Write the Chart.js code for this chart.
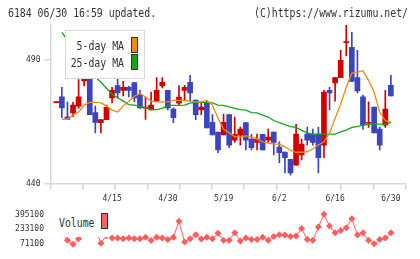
<!DOCTYPE html>
<html>
<head>
<meta charset="utf-8">
<script src="https://cdn.jsdelivr.net/npm/chart.js@4.4.1/dist/chart.umd.min.js"></script>
<style>
  body { margin: 0; background: #fff; }
  #wrap { position: relative; width: 420px; height: 259px; overflow: hidden; background: #fff; }
  canvas { position: absolute; left: 0; }
  .txt { position: absolute; font-family: "DejaVu Sans Mono", monospace; font-size: 12px; line-height: 12px; color: #333; white-space: nowrap; transform: scaleX(0.82); }
  .box { position: absolute; background: #fff; }
  .sw { position: absolute; border: 1px solid #333; box-sizing: border-box; }
</style>
</head>
<body>
<div id="wrap">
  <canvas id="priceChart" width="420" height="205" style="top:0"></canvas>
  <canvas id="volumeChart" width="420" height="59" style="top:200px"></canvas>

  <div class="txt" style="left:8px; top:6.7px; transform-origin:left top;">6184 06/30 16:59 updated.</div>
  <div class="txt" style="left:0; width:408px; text-align:right; top:6.7px; transform-origin:right top;">(C)https://www.rizumu.net/</div>

  <div class="box" style="left:65px; top:30px; width:78px; height:47px; border:1px solid #d8d8d8;"></div>
  <div class="txt" style="left:0; width:124px; text-align:right; top:40.2px; transform-origin:right top;">5-day MA</div>
  <div class="txt" style="left:0; width:124px; text-align:right; top:57px; transform-origin:right top;">25-day MA</div>
  <div class="sw" style="left:131px; top:37px; width:7px; height:16px; background:#f08c0c;"></div>
  <div class="sw" style="left:131px; top:54px; width:7px; height:16px; background:#12a818;"></div>

  <div class="box" style="left:50px; top:206px; width:60px; height:31px;"></div>
  <div class="txt" style="left:59px; top:216.7px; transform-origin:left top;">Volume</div>
  <div class="sw" style="left:101px; top:212.5px; width:7px; height:16px; background:#ff6060;"></div>
</div>

<script>
const dates = [
  "4/1", "4/2", "4/3", "4/6", "4/7", "4/8", "4/9", "4/10", "4/13", "4/14",
  "4/15", "4/16", "4/17", "4/20", "4/21", "4/22", "4/23", "4/24", "4/27", "4/28",
  "4/30", "5/1", "5/7", "5/8", "5/11", "5/12", "5/13", "5/14", "5/15", "5/18",
  "5/19", "5/20", "5/21", "5/22", "5/25", "5/26", "5/27", "5/28", "5/29", "6/1",
  "6/2", "6/3", "6/4", "6/5", "6/8", "6/9", "6/10", "6/11", "6/12", "6/15",
  "6/16", "6/17", "6/18", "6/19", "6/22", "6/23", "6/24", "6/25", "6/26", "6/29",
  "6/30"
];

const opens = [
  472.8, 475.1, 467.1, 468.7, 471.4, 481.6, 483.8, 468.8, 464.7, 465.9,
  474.7, 479.7, 477.7, 479.0, 480.9, 475.8, 470.6, 469.9, 473.4, 479.5,
  477.8, 470.2, 472.6, 477.7, 481.0, 473.8, 469.9, 472.9, 464.9, 460.9,
  459.8, 468.0, 457.7, 459.7, 464.8, 458.1, 456.8, 460.0, 457.7, 460.9,
  454.9, 452.9, 449.9, 447.6, 451.7, 460.1, 460.1, 460.1, 455.7, 477.8,
  480.7, 482.9, 497.0, 495.1, 482.9, 475.1, 464.5, 471.0, 462.1, 463.7,
  479.8
];
const highs = [
  472.9, 479.0, 473.0, 472.9, 482.1, 486.9, 483.8, 471.4, 466.0, 471.8,
  479.0, 484.9, 481.4, 479.5, 480.9, 477.8, 475.0, 477.1, 482.9, 482.9,
  477.8, 470.7, 479.7, 479.8, 483.8, 473.8, 472.7, 473.4, 468.0, 460.9,
  468.2, 468.0, 467.0, 462.9, 464.8, 460.0, 460.1, 460.0, 462.1, 460.9,
  457.0, 452.9, 449.9, 464.1, 458.1, 462.9, 462.1, 462.9, 477.8, 479.0,
  482.9, 493.9, 504.0, 501.1, 493.9, 475.8, 473.1, 471.0, 462.9, 477.8,
  483.8
];
const lows = [
  472.8, 466.7, 465.9, 467.1, 470.5, 479.5, 468.0, 460.6, 460.6, 465.9,
  472.7, 474.7, 475.5, 475.1, 473.1, 470.5, 466.0, 469.9, 473.4, 478.7,
  469.9, 464.7, 471.8, 473.7, 473.4, 465.9, 467.9, 462.6, 459.8, 452.6,
  459.8, 454.6, 456.8, 455.7, 453.7, 453.7, 453.7, 453.7, 456.8, 451.7,
  448.6, 444.5, 443.6, 447.6, 449.7, 455.7, 455.7, 444.5, 450.6, 469.9,
  473.4, 482.9, 491.6, 481.4, 476.7, 462.0, 462.8, 460.6, 453.7, 462.8,
  475.5
];
const closes = [
  472.9, 470.7, 466.0, 471.8, 475.1, 485.2, 468.0, 464.8, 466.0, 470.9,
  477.8, 476.7, 479.0, 477.7, 474.7, 470.7, 471.0, 471.8, 477.8, 481.0,
  470.7, 466.7, 475.0, 479.0, 476.7, 467.9, 471.0, 462.6, 459.8, 453.7,
  464.9, 455.7, 460.0, 462.1, 457.7, 454.6, 458.1, 453.7, 458.9, 456.8,
  452.6, 450.6, 444.5, 460.1, 456.1, 457.7, 456.8, 450.6, 477.1, 476.7,
  482.9, 489.9, 497.2, 481.4, 477.5, 463.7, 464.7, 460.6, 455.7, 470.2,
  475.5
];

const ma5 = [
  null, 466.1, 466.1, 467.8, 469.0, 471.8, 472.9, 472.9, 472.8, 471.4,
  469.8, 469.0, 471.4, 473.4, 475.4, 476.6, 475.1, 473.4, 473.1, 473.1,
  473.1, 473.7, 473.7, 473.7, 473.4, 473.1, 473.1, 473.7, 471.8, 466.5,
  462.1, 460.7, 459.0, 459.0, 459.4, 459.0, 458.1, 457.0, 456.5, 456.1,
  456.1, 455.0, 453.6, 452.8, 452.8, 453.0, 454.1, 455.7, 457.0, 460.5,
  466.5, 472.2, 479.0, 484.7, 485.1, 485.7, 481.8, 477.0, 469.0, 465.5,
  464.9
];
const ma25 = [
  null, 501.1, 497.9, 495.1, 492.1, 489.1, 486.3, 483.2, 481.0, 478.6,
  476.2, 474.8, 473.4, 472.0, 471.8, 471.2, 470.9, 470.0, 470.0, 470.5,
  471.7, 471.7, 471.7, 471.8, 472.6, 472.9, 472.9, 472.9, 472.7, 471.8,
  471.7, 471.1, 470.5, 470.0, 469.8, 468.8, 468.7, 467.8, 467.0, 465.6,
  464.7, 463.9, 463.1, 462.8, 461.6, 460.6, 460.0, 460.1, 460.1, 460.1,
  460.1, 461.0, 461.7, 462.8, 463.1, 463.7, 464.0, 464.1, 464.1, 464.1,
  464.7
];

const volumes = [
  250000, 180000, 109600, 65000, 126000, 250000, 330000, 235000, 77000, 163000,
  134000, 134000, 126000, 134000, 126000, 126000, 142000, 106000, 142000, 134000,
  118000, 142000, 322000, 90000, 126000, 172000, 122000, 142000, 126000, 186000,
  109600, 109600, 194000, 101000, 134000, 118000, 118000, 142000, 109600, 150000,
  172000, 167000, 150000, 158000, 240000, 118000, 109600, 257000, 398000, 267000,
  194000, 218000, 249000, 349000, 167000, 194000, 109600, 71100, 118000, 134000,
  194000
];

const priceTicks = [440, 490];
const volumeTicks = [71100, 233100, 395100];
const labelIndexes = [10, 20, 30, 40, 50, 60];

const upColor = "#d40000";
const downColor = "#3c44c0";
const axisColor = "#d6d6d6";
const xMin = -1.04;
const xMax = 62.66;

Chart.defaults.font.family = "DejaVu Sans Mono";
Chart.defaults.font.size = 8;
Chart.defaults.color = "#333";

const candleColors = opens.map((o, i) => (closes[i] >= o ? upColor : downColor));

new Chart(document.getElementById("priceChart"), {
  data: {
    datasets: [
      {
        type: "line",
        data: ma5.map((v, i) => ({ x: i, y: v })),
        borderColor: "#f08c0c",
        borderWidth: 1.3,
        pointRadius: 0,
        order: 0
      },
      {
        type: "line",
        data: ma25.map((v, i) => ({ x: i, y: v })),
        borderColor: "#12a818",
        borderWidth: 1.3,
        pointRadius: 0,
        order: 0
      },
      {
        type: "bar",
        data: opens.map((o, i) => ({ x: i, y: [o, closes[i]] })),
        backgroundColor: candleColors,
        barThickness: 5,
        minBarLength: 1,
        grouped: false,
        order: 1
      },
      {
        type: "bar",
        data: lows.map((l, i) => ({ x: i, y: [l, highs[i]] })),
        backgroundColor: candleColors,
        barThickness: 1,
        minBarLength: 1,
        grouped: false,
        order: 2
      }
    ]
  },
  options: {
    responsive: false,
    animation: false,
    layout: { padding: { top: 25, right: 14.3, left: 0, bottom: 0 } },
    plugins: { legend: { display: false }, tooltip: { enabled: false } },
    scales: {
      x: {
        type: "linear",
        min: xMin,
        max: xMax,
        offset: false,
        weight: 0,
        afterBuildTicks: (scale) => {
          const step = (xMax - xMin) / 11;
          scale.ticks = Array.from({ length: 12 }, (_, k) => ({ value: xMin + k * step }));
        },
        afterFit: (scale) => { scale.height = 0; },
        ticks: { display: false },
        grid: { offset: false, drawOnChartArea: false, tickLength: 6, color: axisColor, lineWidth: 1.5 },
        border: { color: axisColor, width: 1.5 }
      },
      xLabels: {
        type: "linear",
        position: "bottom",
        min: xMin,
        max: xMax,
        offset: false,
        weight: 1,
        afterBuildTicks: (scale) => {
          scale.ticks = labelIndexes.map((v) => ({ value: v }));
        },
        afterFit: (scale) => { scale.height = 21; },
        ticks: {
          autoSkip: false,
          maxRotation: 0,
          padding: 10,
          callback: (value) => dates[value]
        },
        grid: { display: false, offset: false, drawTicks: false, tickLength: 0 },
        border: { display: false }
      },
      y: {
        min: 440,
        max: 504.1,
        afterBuildTicks: (scale) => {
          scale.ticks = priceTicks.map((v) => ({ value: v }));
        },
        afterFit: (scale) => { scale.width = 50.5; },
        ticks: { padding: 4 },
        grid: { drawOnChartArea: false, tickLength: 6, color: axisColor, lineWidth: 1.5 },
        border: { color: axisColor, width: 1.5 }
      }
    }
  }
});

new Chart(document.getElementById("volumeChart"), {
  type: "line",
  data: {
    datasets: [
      {
        data: volumes.map((v, i) => ({ x: i, y: v })),
        borderColor: "#ff5c5c",
        borderWidth: 1,
        pointStyle: "rectRot",
        pointRadius: 3.5,
        pointBackgroundColor: "#ff5c5c",
        pointBorderWidth: 0,
        clip: false
      }
    ]
  },
  options: {
    responsive: false,
    animation: false,
    layout: { padding: { top: 5, right: 14.3, left: 0, bottom: 4 } },
    plugins: { legend: { display: false }, tooltip: { enabled: false } },
    scales: {
      x: { type: "linear", min: xMin, max: xMax, offset: false, display: false },
      y: {
        min: 26550,
        max: 431550,
        afterBuildTicks: (scale) => {
          scale.ticks = volumeTicks.map((v) => ({ value: v }));
        },
        afterFit: (scale) => { scale.width = 50.5; },
        ticks: { padding: 6.5, callback: (value) => String(value) },
        grid: { display: false, drawTicks: false },
        border: { display: false }
      }
    }
  }
});
</script>
</body>
</html>
